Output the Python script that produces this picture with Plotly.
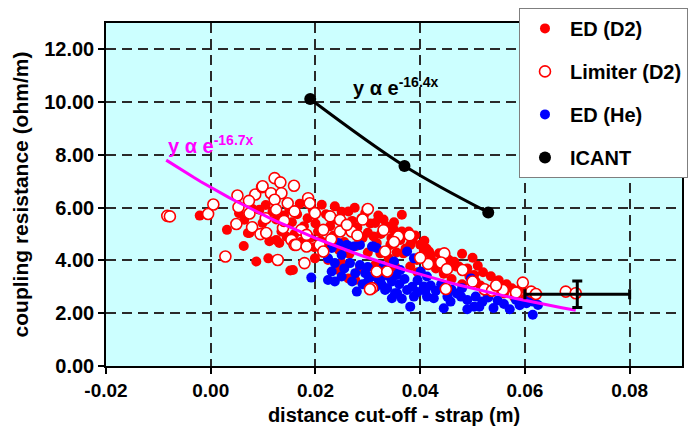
import math
import plotly.graph_objects as go

# ---------------- data ----------------
ed_d2_x = [-0.0021, 0.0031, 0.0063, 0.0087, 0.0110, 0.0152, 0.0054, 0.0064, 0.0071, 0.0093, 0.0099, 0.0074, 0.0112, 0.0131, 0.0125,
           0.0080, 0.0105, 0.0118, 0.0125, 0.0140, 0.0150, 0.0155, 0.0165, 0.0170, 0.0178, 0.0185, 0.0186, 0.0195, 0.0200, 0.0205,
           0.0212, 0.0220, 0.0228, 0.0237, 0.0240, 0.0250, 0.0255, 0.0263, 0.0270, 0.0275, 0.0280, 0.0288, 0.0295, 0.0300, 0.0305,
           0.0314, 0.0320, 0.0325, 0.0330, 0.0340, 0.0345, 0.0350, 0.0365, 0.0378, 0.0365, 0.0385,
           0.0135, 0.0145, 0.0160, 0.0172, 0.0190, 0.0198, 0.0210, 0.0215, 0.0225, 0.0235, 0.0245, 0.0255, 0.0265, 0.0278, 0.0290,
           0.0300, 0.0311, 0.0317, 0.0324, 0.0337, 0.0343, 0.0350, 0.0362, 0.0368, 0.0375, 0.0381, 0.0394, 0.0407, 0.0417, 0.0420,
           0.0436, 0.0455, 0.0468, 0.0474, 0.0490, 0.0494, 0.0503, 0.0506, 0.0503, 0.0529,
           0.0199, 0.0157, 0.0224, 0.0244, 0.0263, 0.0276, 0.0314, 0.0340, 0.0352, 0.0381, 0.0330, 0.0395, 0.0430, 0.0445, 0.0460,
           0.0480, 0.0515, 0.0540, 0.0560, 0.0580, 0.0600, 0.0250, 0.0285,
           0.0400, 0.0412, 0.0425, 0.0440, 0.0450, 0.0465, 0.0480, 0.0500, 0.0510, 0.0520, 0.0535, 0.0550, 0.0565, 0.0575, 0.0590,
           0.0605, 0.0615, 0.0390, 0.0372, 0.0355, 0.0408]
ed_d2_y = [5.70, 5.16, 4.55, 3.96, 4.08, 3.62, 5.79, 5.54, 5.04, 5.92, 5.42, 5.04, 4.73, 4.66, 4.78,
           5.95, 6.10, 5.85, 5.55, 5.70, 5.95, 5.45, 5.75, 6.15, 5.30, 5.60, 6.30, 5.90, 5.40, 5.10,
           6.11, 5.75, 5.30, 6.05, 5.55, 5.85, 5.20, 5.86, 5.50, 6.00, 5.25, 5.60, 5.80, 5.05, 5.40,
           5.42, 5.70, 5.00, 5.55, 5.23, 4.85, 5.45, 5.73, 5.10, 5.10, 4.78,
           5.10, 4.90, 5.00, 4.70, 4.85, 4.50, 4.75, 4.30, 4.60, 4.95, 4.40, 4.70, 4.25, 4.55, 4.85,
           4.30, 4.91, 4.66, 4.27, 5.29, 4.59, 5.16, 4.78, 4.27, 5.04, 4.59, 4.02, 4.40, 4.34, 4.20,
           4.27, 4.02, 3.77, 3.77, 3.70, 3.39, 3.26, 3.20, 3.45, 2.69,
           4.08, 3.64, 4.02, 3.64, 3.32, 3.26, 3.83, 4.08, 3.77, 3.77, 3.45, 3.55, 3.70, 3.50, 3.30,
           3.10, 3.05, 2.95, 2.75, 2.60, 2.55, 3.90, 3.70,
           4.60, 4.45, 3.95, 3.85, 4.10, 3.95, 4.25, 4.10, 3.80, 3.55, 3.40, 3.25, 3.10, 2.95, 2.90,
           2.75, 2.60, 4.95, 4.45, 4.30, 4.75]

lim_d2_x = [-0.0083, -0.0078, -0.0005, 0.0005, 0.0028, 0.0051, 0.0085, 0.0098, 0.0073, 0.0053, 0.0074, 0.0049, 0.0079, 0.0095,
            0.0122, 0.0133, 0.0159, 0.0099, 0.0115, 0.0135, 0.0122, 0.0147, 0.0186, 0.0189, 0.0125, 0.0160, 0.0199, 0.0228, 0.0247,
            0.0138, 0.0173, 0.0215, 0.0247, 0.0269, 0.0154, 0.0183, 0.0160, 0.0208, 0.0215, 0.0128, 0.0106, 0.0358, 0.0446, 0.0440,
            0.0451, 0.0415, 0.0481, 0.0333, 0.0317, 0.0337, 0.0308, 0.0449, 0.0596, 0.0558, 0.0583, 0.0612, 0.0621, 0.0523, 0.0537,
            0.0678, 0.0697, 0.0179, 0.0163, 0.0183, 0.0304,
            0.0290, 0.0300, 0.0330, 0.0260, 0.0280, 0.0350, 0.0230, 0.0380, 0.0400, 0.0500, 0.0545, 0.0140, 0.0105]
lim_d2_y = [5.69, 5.67, 5.76, 6.12, 4.15, 6.46, 6.50, 6.78, 6.26, 6.02, 5.78, 5.38, 5.26, 5.00,
            7.12, 6.96, 6.83, 6.81, 6.55, 6.55, 6.30, 6.17, 6.36, 6.17, 5.92, 5.86, 5.79, 5.67, 5.54,
            5.23, 5.16, 5.16, 5.10, 5.10, 4.78, 4.97, 4.59, 4.59, 4.34, 4.02, 5.04, 4.91, 4.27, 3.92,
            3.67, 3.87, 3.64, 4.34, 3.58, 3.58, 2.95, 2.92, 3.16, 2.88, 2.78, 2.82, 2.73, 2.91, 2.85,
            2.82, 2.76, 3.90, 4.59, 4.53, 2.91,
            5.55, 5.95, 5.15, 5.35, 4.95, 4.70, 4.80, 4.95, 4.10, 3.20, 3.05, 5.50, 5.60]

ed_he_x = [0.0192, 0.0231, 0.0244, 0.0260, 0.0273, 0.0285, 0.0308, 0.0317, 0.0224, 0.0250, 0.0237, 0.0266, 0.0285, 0.0295, 0.0276,
           0.0231, 0.0224, 0.0237, 0.0250, 0.0308, 0.0321, 0.0327, 0.0346, 0.0333, 0.0352, 0.0346, 0.0279, 0.0311, 0.0375, 0.0388,
           0.0350, 0.0330, 0.0362, 0.0401, 0.0413, 0.0324, 0.0337, 0.0356, 0.0375, 0.0388, 0.0407, 0.0413, 0.0426, 0.0452, 0.0458,
           0.0478, 0.0490, 0.0381, 0.0445, 0.0497, 0.0503, 0.0506, 0.0519, 0.0548, 0.0571, 0.0583, 0.0609, 0.0615, 0.0625, 0.0615,
           0.0603, 0.0513,
           0.0300, 0.0315, 0.0340, 0.0360, 0.0370, 0.0385, 0.0395, 0.0420, 0.0430, 0.0440, 0.0460, 0.0470, 0.0480, 0.0395, 0.0365,
           0.0290, 0.0270, 0.0255, 0.0300, 0.0355, 0.0410, 0.0530, 0.0560, 0.0590, 0.0540, 0.0490]
ed_he_y = [3.35, 4.47, 4.66, 4.59, 4.53, 4.59, 4.53, 4.47, 4.08, 4.21, 3.90, 3.90, 3.83, 3.52, 3.52,
           3.58, 3.26, 3.20, 3.39, 3.39, 3.26, 3.07, 3.20, 2.88, 2.76, 2.57, 2.82, 4.53, 4.34, 4.08,
           3.96, 3.77, 3.64, 3.58, 3.39, 3.26, 2.95, 2.76, 2.88, 2.63, 3.01, 2.63, 2.57, 2.63, 2.44,
           2.63, 2.50, 2.25, 2.19, 3.32, 2.25, 2.63, 2.44, 2.48, 2.15, 2.50, 2.69, 2.44, 2.31, 1.94,
           2.38, 2.25,
           3.20, 3.00, 3.40, 3.10, 3.30, 3.00, 3.25, 3.05, 2.85, 3.10, 2.90, 2.75, 2.95, 2.80, 2.55,
           3.10, 3.20, 3.70, 3.75, 3.45, 2.85, 2.60, 2.35, 2.30, 2.20, 2.15]

icant_x = [0.019, 0.037, 0.053]
icant_y = [10.12, 7.58, 5.82]

# fitted trend for the experimental data: y = A * exp(-k x)
fit_amp = 6.77
fit_k = 16.7
fit_x_range = [-0.0085, 0.0697]

# representative point with error bars
err_x = [0.070]
err_y = [2.72]
err_dx = [0.010]
err_dy = [0.50]

x_tickvals = [-0.02, 0.00, 0.02, 0.04, 0.06, 0.08]
x_ticktext = ["-0.02", "0.00", "0.02", "0.04", "0.06", "0.08"]
y_tickvals = [0, 2, 4, 6, 8, 10, 12]
y_ticktext = ["0.00", "2.00", "4.00", "6.00", "8.00", "10.00", "12.00"]

# ---------------- figure ----------------
n = 60
fx = [fit_x_range[0] + (fit_x_range[1] - fit_x_range[0]) * i / (n - 1) for i in range(n)]
fy = [fit_amp * math.exp(-fit_k * v) for v in fx]

FONT = "Liberation Sans, Arial, sans-serif"

fig = go.Figure()
fig.add_trace(go.Scatter(x=ed_d2_x, y=ed_d2_y, mode="markers", name="ED (D2)",
                         legendgroup="a", legendrank=1,
                         marker=dict(color="#ff0000", size=10, line=dict(width=0))))
fig.add_trace(go.Scatter(x=ed_he_x, y=ed_he_y, mode="markers", name="ED (He)",
                         legendgroup="c", legendrank=3,
                         marker=dict(color="#0000ff", size=10, line=dict(width=0))))
fig.add_trace(go.Scatter(x=lim_d2_x, y=lim_d2_y, mode="markers", name="Limiter (D2)",
                         legendgroup="b", legendrank=2,
                         marker=dict(color="#ffffff", size=11, line=dict(color="#ff0000", width=1.6))))
fig.add_trace(go.Scatter(x=fx, y=fy, mode="lines", showlegend=False,
                         line=dict(color="#ff00ff", width=3)))
fig.add_trace(go.Scatter(x=err_x, y=err_y, mode="markers", showlegend=False,
                         marker=dict(size=1, color="rgba(0,0,0,0)"),
                         error_x=dict(type="data", array=err_dx, color="#000000", thickness=3, width=5),
                         error_y=dict(type="data", array=err_dy, color="#000000", thickness=3, width=5)))
fig.add_trace(go.Scatter(x=icant_x, y=icant_y, mode="lines", showlegend=False, line_shape="spline",
                         line=dict(color="#000000", width=3)))
fig.add_trace(go.Scatter(x=icant_x, y=icant_y, mode="markers", name="ICANT",
                         legendgroup="d", legendrank=4,
                         marker=dict(color="#000000", size=12)))

fig.add_annotation(x=0.0267, y=10.6, xref="x", yref="y", xanchor="left", yanchor="middle",
                   text="y α e<sup>-16.4x</sup>", showarrow=False,
                   font=dict(family=FONT, size=20, color="#000000", weight="bold"))
fig.add_annotation(x=-0.0085, y=8.4, xref="x", yref="y", xanchor="left", yanchor="middle",
                   text="y α e<sup>-16.7x</sup>", showarrow=False,
                   font=dict(family=FONT, size=20, color="#ff00ff", weight="bold"))

axis_common = dict(showline=True, linecolor="#000000", linewidth=1.5, mirror=True,
                   ticks="outside", ticklen=6, tickcolor="#000000", tickwidth=1.5,
                   showgrid=True, gridcolor="#2a2a2a", gridwidth=2, griddash="10px,6px",
                   zeroline=False, automargin=False)

fig.update_xaxes(range=[-0.02, 0.09], tickvals=x_tickvals, ticktext=x_ticktext,
                 tickfont=dict(family=FONT, size=19, color="#000000", weight="bold"),
                 title=dict(text="distance cut-off - strap (m)", standoff=8,
                            font=dict(family=FONT, size=20, color="#000000", weight="bold")),
                 **axis_common)
fig.update_yaxes(range=[0, 13], tickvals=y_tickvals, ticktext=y_ticktext,
                 tickfont=dict(family=FONT, size=20, color="#000000", weight="bold"),
                 title=dict(text="coupling resistance (ohm/m)", standoff=10,
                            font=dict(family=FONT, size=21, color="#000000", weight="bold")),
                 **axis_common)

# the page body has an 8px margin, so the figure is sized to fill the rest of the window
fig.update_layout(
    width=688, height=424,
    margin=dict(l=98, r=14, t=15, b=66, autoexpand=False),
    plot_bgcolor="#ccffff", paper_bgcolor="#ffffff",
    legend=dict(x=0.717, y=1.044, xanchor="left", yanchor="top",
                bgcolor="#ffffff", bordercolor="#7f7f7f", borderwidth=1,
                font=dict(family=FONT, size=20, color="#000000", weight="bold"),
                tracegroupgap=14, itemwidth=40, traceorder="grouped"),
    showlegend=True,
)

fig.write_html("out.html")
